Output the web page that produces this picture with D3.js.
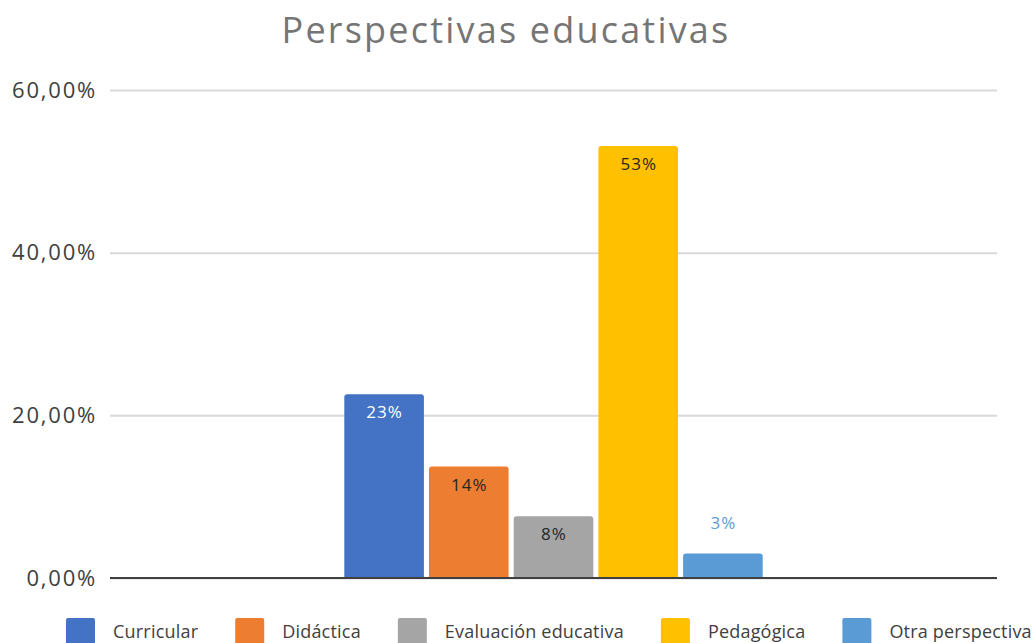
<!DOCTYPE html>
<html><head><meta charset="utf-8">
<script src="https://cdn.jsdelivr.net/npm/d3@7"></script>
<style>html,body{margin:0;padding:0;background:#fff;overflow:hidden}</style>
</head><body>
<svg id="c" width="1034" height="643"></svg>
<script>
const categories = ["Curricular","Didáctica","Evaluación educativa","Pedagógica","Otra perspectiva"];
const values = [0.226, 0.137, 0.076, 0.531, 0.030];
const labels = ["23%","14%","8%","53%","3%"];
const colors = ["#4472C4","#ED7D31","#A5A5A5","#FFC000","#5B9BD5"];
const yTicks = [0, 0.2, 0.4, 0.6];
const title = "Perspectivas educativas";

const svg = d3.select("#c");
const font = "'Open Sans', 'Segoe UI', sans-serif";
const pLeft = 110, pRight = 997, pTop = 90, pBottom = 578;
const y = d3.scaleLinear().domain([0, 0.6]).range([pBottom, pTop]);
const cx = (pLeft + pRight) / 2, step = 84.7;
const x = d3.scaleBand().domain(categories)
  .range([cx - step*2.5, cx + step*2.5]).paddingInner(0.06).paddingOuter(0.03);

svg.append("text").attr("x", 506).attr("y", 43).attr("text-anchor","middle")
  .attr("font-family", font).attr("font-size", 36).attr("letter-spacing", 2.2)
  .attr("fill","#757575").text(title);

const fmt = v => d3.format(".2f")(v*100).replace(".", ",") + "%";
const yAxis = d3.axisLeft(y).tickValues(yTicks).tickSize(-(pRight-pLeft)).tickFormat(fmt).tickPadding(13);
const g = svg.append("g").attr("transform", `translate(${pLeft},0)`).call(yAxis);
g.select(".domain").remove();
g.selectAll(".tick line").attr("stroke","#d9d9d9").attr("stroke-width",2);
g.selectAll(".tick text").attr("font-family", font).attr("font-size", 22)
  .attr("letter-spacing", 1.8).attr("fill","#404040");

svg.append("g").selectAll("path").data(categories).join("path")
  .attr("fill", (d,i) => colors[i])
  .attr("d", (d,i) => {
    const x0 = x(d), w = x.bandwidth(), y0 = y(values[i]), r = 3;
    return `M${x0},${pBottom}V${y0+r}Q${x0},${y0} ${x0+r},${y0}H${x0+w-r}Q${x0+w},${y0} ${x0+w},${y0+r}V${pBottom}Z`;
  });

svg.append("line").attr("x1", pLeft).attr("x2", pRight).attr("y1", y(0)).attr("y2", y(0))
  .attr("stroke","#404040").attr("stroke-width",2);

const labelFill = ["#ffffff","#262626","#262626","#262626","#5B9BD5"];
svg.append("g").selectAll("text").data(categories).join("text")
  .attr("x", d => x(d) + x.bandwidth()/2 + 0.5)
  .attr("y", (d,i) => i === 4 ? y(values[i]) - 25 : y(values[i]) + 24)
  .attr("text-anchor","middle").attr("font-family", font).attr("font-size", 17)
  .attr("letter-spacing", 1)
  .attr("fill", (d,i) => labelFill[i]).text((d,i) => labels[i]);

const leg = svg.append("g");
let lx = 66;
categories.forEach((c,i) => {
  leg.append("rect").attr("x", lx).attr("y", 618).attr("width", 29).attr("height", 29).attr("rx", 2).attr("fill", colors[i]);
  const t = leg.append("text").attr("x", lx + 47).attr("y", 638).attr("font-family", font)
    .attr("font-size", 18).attr("letter-spacing", 0.2).attr("fill","#404040").text(c);
  lx += 47 + t.node().getComputedTextLength() + 37;
});
</script>
</body></html>
